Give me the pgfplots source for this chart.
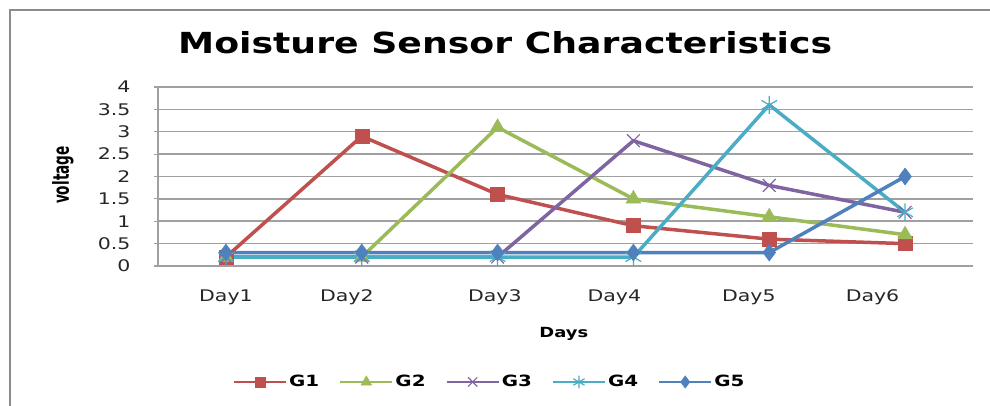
\documentclass[border=0pt]{standalone}
\usepackage{fontspec}
\setmainfont{DejaVu Sans}[FakeStretch=1.28]
\newfontfamily\narrowfont{DejaVu Sans}[FakeStretch=0.62]
\newfontfamily\titlefont{DejaVu Sans}[FakeStretch=1.25]
\usepackage{pgfplots}
\pgfplotsset{compat=1.18}
\definecolor{cG1}{HTML}{C0504D}
\definecolor{cG2}{HTML}{9BBB59}
\definecolor{cG3}{HTML}{8064A2}
\definecolor{cG4}{HTML}{4BACC6}
\definecolor{cG5}{HTML}{4F81BD}
\definecolor{gridc}{HTML}{A0A0A0}
\definecolor{framec}{HTML}{8C8C8C}
\begin{document}
\begin{tikzpicture}
\begin{axis}[
  at={(158pt,140pt)}, anchor=south west,
  scale only axis, width=815pt, height=179pt,
  xmin=-0.5, xmax=5.5, ymin=0, ymax=4,
  axis x line*=bottom, axis y line*=left,
  axis line style={gridc, line width=1.5pt},
  xtick={0,0.89,1.98,2.86,3.85,4.76},
  xticklabels={Day1,Day2,Day3,Day4,Day5,Day6},
  xtick style={draw=none},
  ytick={0,0.5,1,1.5,2,2.5,3,3.5,4},
  yticklabels={0,0.5,1,1.5,2,2.5,3,3.5,4},
  ytick style={gridc, line width=1.2pt},
  tick align=outside, major tick length=4pt,
  ymajorgrids, grid style={gridc, line width=1.5pt},
  ticklabel style={font=\fontsize{16}{18}\selectfont, text=black!85},
  xticklabel style={anchor=base, yshift=-32pt},
  yticklabel style={anchor=east, xshift=-20pt},
  title={Moisture Sensor Characteristics},
  title style={at={(0.426,1.151)}, anchor=base, font=\titlefont\fontsize{29}{32}\selectfont\bfseries},
  xlabel={Days},
  xlabel style={at={(0.498,-0.397)}, anchor=base, font=\fontsize{14}{16}\selectfont\bfseries},
  ylabel={voltage},
  ylabel style={at={(-0.1166,0.508)}, anchor=center, font=\narrowfont\fontsize{22}{24}\selectfont\bfseries},
  legend style={at={(0.407,-0.648)}, anchor=center, draw=none, fill=none,
    legend columns=5, font=\fontsize{15.5}{17}\selectfont\bfseries,
    nodes={inner sep=2pt},
    /tikz/every even column/.append style={column sep=18pt}},
  legend image code/.code={\draw[line width=2.2pt, mark repeat=2, mark phase=2, every mark/.append style={scale=0.72}] plot coordinates {(0pt,0pt) (26pt,0pt) (52pt,0pt)};},
  every axis plot/.append style={line width=3.5pt},
  clip=false,
]
\addplot[cG1, mark=square*, mark size=7pt, mark options={solid, line width=0.5pt}]
  coordinates {(0,0.2) (1,2.9) (2,1.6) (3,0.9) (4,0.6) (5,0.5)};
\addplot[cG2, mark=triangle*, mark size=8.5pt, mark options={solid, line width=0.5pt}]
  coordinates {(0,0.2) (1,0.2) (2,3.1) (3,1.5) (4,1.1) (5,0.7)};
\addplot[cG3, mark=x, mark size=9pt, mark options={solid, line width=1.2pt}]
  coordinates {(0,0.2) (1,0.2) (2,0.2) (3,2.8) (4,1.8) (5,1.2)};
\addplot[cG4, mark=asterisk, mark size=9pt, mark options={solid, line width=1.2pt}]
  coordinates {(0,0.2) (1,0.2) (2,0.2) (3,0.2) (4,3.6) (5,1.2)};
\addplot[cG5, mark=diamond*, mark size=8.5pt, mark options={solid, line width=0.5pt}]
  coordinates {(0,0.3) (1,0.3) (2,0.3) (3,0.3) (4,0.3) (5,2.0)};
\legend{G1,G2,G3,G4,G5}
\end{axis}
\draw[framec, line width=1.5pt] (10pt,0pt) -- (10pt,396pt) -- (990pt,396pt);
\pgfresetboundingbox
\useasboundingbox (0pt,0pt) rectangle (990pt,406pt);
\end{tikzpicture}
\end{document}
